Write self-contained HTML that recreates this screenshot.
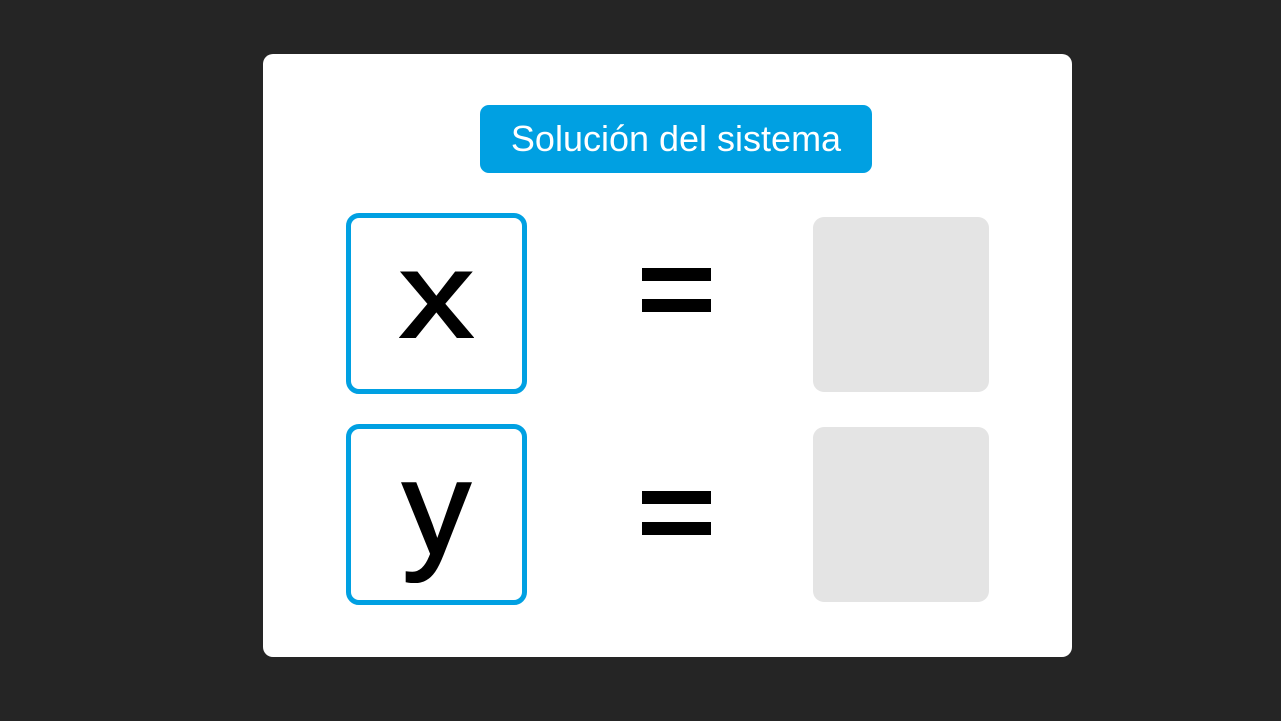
<!DOCTYPE html>
<html><head><meta charset="utf-8"><style>
*{margin:0;padding:0;box-sizing:border-box}
body{width:1281px;height:721px;background:#252525;position:relative;overflow:hidden;font-family:"Liberation Sans",Arial,sans-serif}
div{position:absolute}
.card{left:263px;top:54px;width:809px;height:603px;background:#fff;border-radius:10px}
.hdr{left:480px;top:105px;width:392px;height:68px;background:#00a0e2;border-radius:9px;color:#fff;font-size:36px;line-height:68px;text-align:center}
.box{left:346px;width:181px;height:181px;border:5px solid #00a0e2;border-radius:13px}
.g{left:813px;width:176px;height:175px;background:#e4e4e4;border-radius:11px}
.bar{left:642px;width:69px;height:13px;background:#000}
.t{left:346px;width:181px;text-align:center;font-size:122px;line-height:122px;color:#000;-webkit-text-stroke:2px #000}
</style></head><body>
<div class="card"></div>
<div class="hdr">Solución del sistema</div>
<div class="box" style="top:213px"></div>
<div class="box" style="top:424px"></div>
<div class="t" style="top:234px;transform:scaleX(1.22)">x</div>
<div class="t" style="top:447px;transform:scale(1.12,1.1)">y</div>
<div class="bar" style="top:268px"></div>
<div class="bar" style="top:299px"></div>
<div class="bar" style="top:491px"></div>
<div class="bar" style="top:522px"></div>
<div class="g" style="top:217px"></div>
<div class="g" style="top:427px"></div>
</body></html>
